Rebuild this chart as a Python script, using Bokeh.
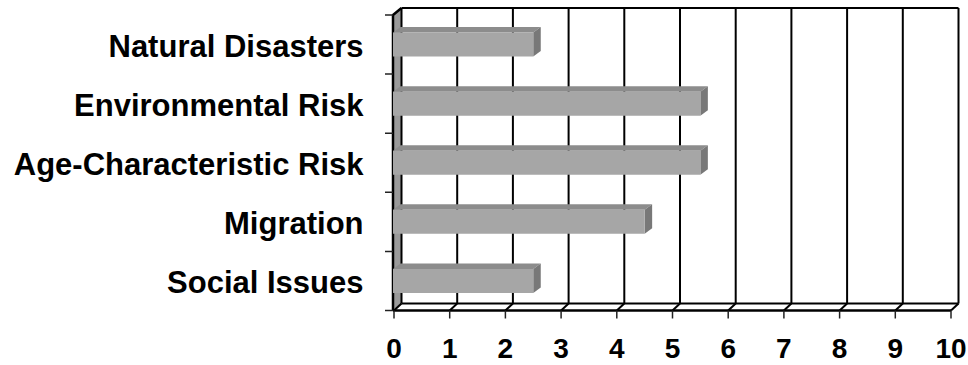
from bokeh.plotting import figure
from bokeh.models import Range1d
from bokeh.core.properties import value
from bokeh.embed import file_html
from bokeh.resources import INLINE

# ---------------- data ----------------
categories = ["Natural Disasters", "Environmental Risk", "Age-Characteristic Risk",
              "Migration", "Social Issues"]
values = [2.5, 5.5, 5.5, 4.5, 2.5]
x_ticks = [0, 1, 2, 3, 4, 5, 6, 7, 8, 9, 10]
x_tick_labels = [str(t) for t in x_ticks]

# ---------------- geometry (pixels -> data units) ----------------
W, H = 968, 365
PX_X = 55.7          # px per x unit
PX_Y = 59.1          # px per category
X_ORIGIN_PX = 393.5  # px where x=0
FLOOR_PX = 310.0     # px (from top) of the front floor line

x_start = -X_ORIGIN_PX / PX_X
x_end = x_start + W / PX_X
y_start = -0.5 - (H - FLOOR_PX) / PX_Y
y_end = y_start + H / PX_Y

DX = 7.5 / PX_X      # wall depth offset
DY = 7.0 / PX_Y
BDX = 7.5 / PX_X     # bar depth offset
BDY = 5.5 / PX_Y
BAR_H = 24.0 / PX_Y
X0 = -1.0 / PX_X     # front-left edge
XMAX = x_ticks[-1]
Y_BOT = -0.5
Y_TOP = len(categories) - 0.5
WALL_TOP = Y_BOT + (FLOOR_PX - 7.5) / PX_Y

n = len(categories)
ypos = [n - 1 - i for i in range(n)]

p = figure(width=W, height=H, x_range=Range1d(x_start, x_end),
           y_range=Range1d(y_start, y_end), output_backend="svg",
           toolbar_location=None, x_axis_type=None, y_axis_type=None,
           min_border=0)
p.outline_line_color = None
p.background_fill_color = "white"
p.border_fill_color = "white"

LINE = "#000000"
LW = 2

# left wall (grey)
p.patch([X0, X0, DX, DX], [Y_BOT, Y_TOP, WALL_TOP, Y_BOT + DY],
        fill_color="#9a9a9a", line_color=None)

# back wall gridlines
gx = [[t + DX, t + DX] for t in x_ticks]
gy = [[Y_BOT + DY, WALL_TOP] for _ in x_ticks]
p.multi_line(gx, gy, line_color=LINE, line_width=LW)
# top edge of back wall
p.line([DX, XMAX + DX], [WALL_TOP, WALL_TOP], line_color=LINE, line_width=LW)
# floor back line
p.line([DX, XMAX + DX], [Y_BOT + DY, Y_BOT + DY], line_color=LINE, line_width=LW)
# floor diagonals
p.multi_line([[t, t + DX] for t in x_ticks],
             [[Y_BOT, Y_BOT + DY] for _ in x_ticks], line_color=LINE, line_width=LW)
# front floor line
p.line([X0, XMAX], [Y_BOT, Y_BOT], line_color=LINE, line_width=LW + 0.5)
# front-left vertical edge + diagonal to back top
p.line([X0, X0, DX], [Y_BOT, Y_TOP, WALL_TOP], line_color=LINE, line_width=LW + 0.5)

# ---------------- bars ----------------
front_xs, front_ys, top_xs, top_ys, end_xs, end_ys = [], [], [], [], [], []
for v, y in zip(values, ypos):
    lo, hi = y - BAR_H / 2, y + BAR_H / 2
    front_xs.append([X0, v, v, X0])
    front_ys.append([lo, lo, hi, hi])
    top_xs.append([X0, v, v + BDX, X0 + BDX])
    top_ys.append([hi, hi, hi + BDY, hi + BDY])
    end_xs.append([v, v + BDX, v + BDX, v])
    end_ys.append([lo, lo + BDY, hi + BDY, hi])

p.patches(top_xs, top_ys, fill_color="#8c8c8c", line_color=None)
p.patches(end_xs, end_ys, fill_color="#787878", line_color=None)
p.patches(front_xs, front_ys, fill_color="#a6a6a6", line_color=None)

# ---------------- ticks ----------------
TICK_X = 8.0 / PX_X
TICK_Y = 8.0 / PX_Y
p.segment(x0=[X0 - TICK_X] * (n + 1), y0=[i - 0.5 for i in range(n + 1)],
          x1=[X0] * (n + 1), y1=[i - 0.5 for i in range(n + 1)],
          line_color="#222222", line_width=1.5)
p.segment(x0=x_ticks, y0=[Y_BOT] * len(x_ticks), x1=x_ticks,
          y1=[Y_BOT - TICK_Y] * len(x_ticks), line_color="#222222", line_width=1.5)

# ---------------- labels ----------------
LABEL_X = (363.0 - X_ORIGIN_PX) / PX_X
p.text(x=[LABEL_X] * n, y=[y - 1.5 / PX_Y for y in ypos], text=categories,
       text_align="right", text_baseline="middle",
       text_font=value("Liberation Sans"), text_font_style="bold",
       text_font_size="31px", text_color="black")

DIGIT_MID_Y = Y_BOT - (348.0 - FLOOR_PX) / PX_Y
p.text(x=x_ticks, y=[DIGIT_MID_Y] * len(x_ticks), text=x_tick_labels,
       text_align="center", text_baseline="middle",
       text_font=value("Liberation Sans"), text_font_style="bold",
       text_font_size="28px", text_color="black")

open("out.html", "w").write(file_html(p, INLINE))
